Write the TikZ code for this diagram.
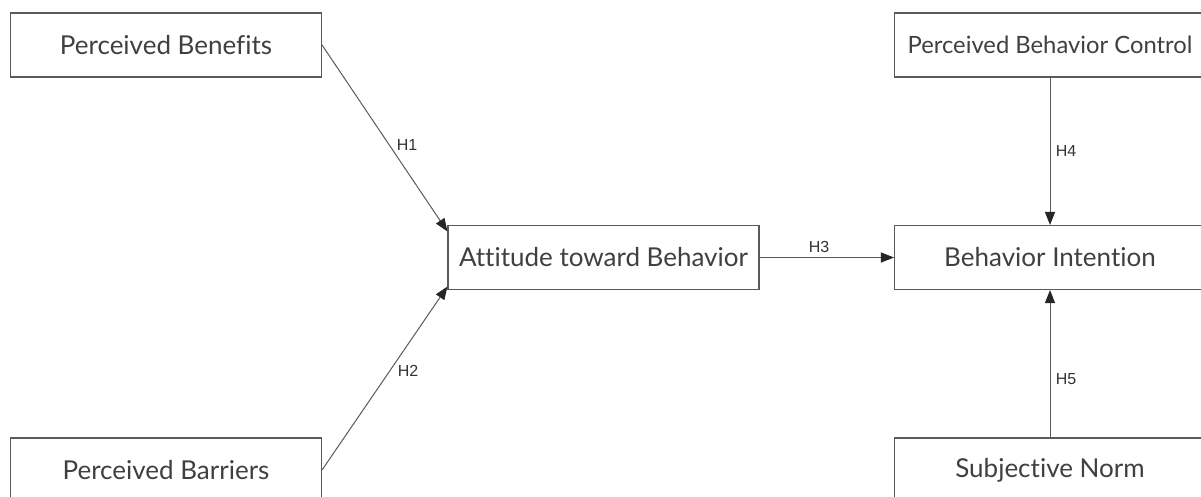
\documentclass[tikz,border=0pt]{standalone}
\usepackage{fontspec}
\setmainfont{Lato}[Ligatures=CommonOff]
\newfontfamily\labfont{Liberation Sans}
\usetikzlibrary{arrows.meta}
\definecolor{boxline}{HTML}{5A5A5A}
\definecolor{boxtext}{HTML}{404040}
\tikzset{
  cbox/.style={draw=boxline, line width=1.1pt, minimum width=311pt, minimum height=64pt,
    inner sep=0pt, text=boxtext, font=\fontsize{26}{30}\selectfont},
  conn/.style={draw=boxline, line width=1pt, -{Triangle[length=13pt,width=10pt,fill=black!85,color=black!85]}},
  hlab/.style={text=black!80, font=\labfont\fontsize{16}{18}\selectfont, inner sep=0pt}
}
\begin{document}
\begin{tikzpicture}[x=1pt,y=-1pt]
\useasboundingbox (0,0) rectangle (1201,497);
\fill[white] (0,0) rectangle (1201,497);
\clip (0,0) rectangle (1201,497);
\node[cbox] (pb) at (166,45) {Perceived Benefits};
\node[cbox] (pbr) at (166,470) {Perceived Barriers};
\node[cbox] (atb) at (603.5,257.5) {Attitude toward Behavior};
\node[cbox] (bi) at (1050,257.5) {Behavior Intention};
\node[cbox, font=\fontsize{23.8}{28}\selectfont] (pbc) at (1050,45) {Perceived Behavior Control};
\node[cbox] (sn) at (1050,470) {Subjective Norm};
\draw[conn] (pb.east) -- ([yshift=26pt]atb.west);
\draw[conn] (pbr.east) -- ([yshift=-29pt]atb.west);
\draw[conn] (atb.east) -- (bi.west);
\draw[conn] (pbc.south) -- (bi.north);
\draw[conn] (sn.north) -- (bi.south);
\node[hlab] (h1) at (407,145) {H1};
\node[hlab] (h2) at (408,371) {H2};
\node[hlab] (h3) at (819,247) {H3};
\node[hlab] (h4) at (1066,151) {H4};
\node[hlab] (h5) at (1066,379) {H5};
\end{tikzpicture}
\end{document}
